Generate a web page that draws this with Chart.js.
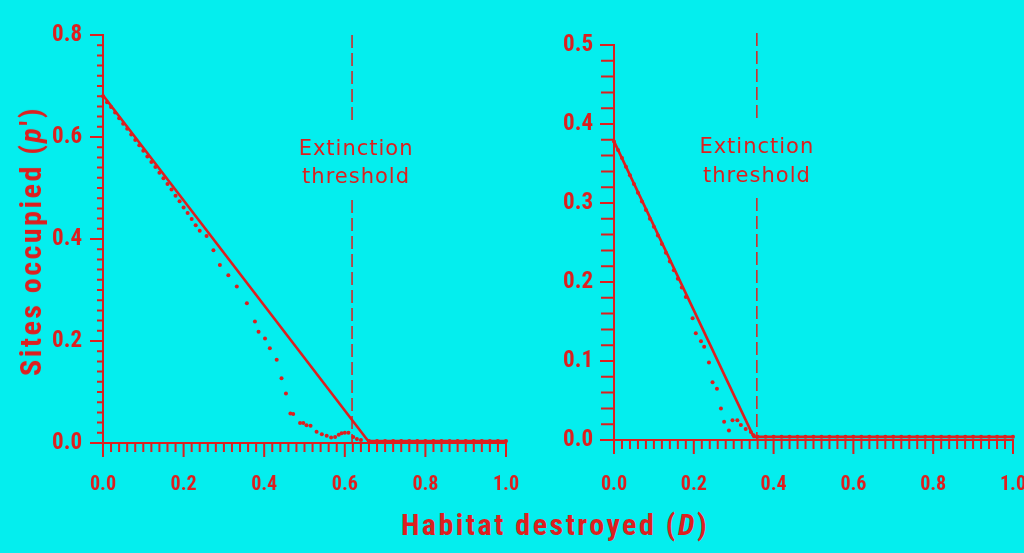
<!DOCTYPE html>
<html><head><meta charset="utf-8">
<script src="https://cdn.jsdelivr.net/npm/chart.js@4.4.0/dist/chart.umd.min.js"></script>
<style>
html,body{margin:0;padding:0;background:#04eeee;width:1024px;height:553px;overflow:hidden;position:relative}
canvas{position:absolute;top:0}
#c1{left:0;width:530px;height:500px}
#c2{left:520px;width:540px;height:500px}
.t{position:absolute;color:#dd1f1f;font-family:'Roboto Condensed','Liberation Sans Narrow',sans-serif;font-weight:bold;font-size:30px;letter-spacing:2.5px;white-space:nowrap;line-height:1}
#xt{left:555px;top:510px;transform:translateX(-50%)}
#yt{left:31px;top:241px;transform:translate(-50%,-50%) rotate(-90deg)}
</style></head><body>
<canvas id="c1" width="530" height="500"></canvas>
<canvas id="c2" width="540" height="500"></canvas>
<div class="t" id="xt">Habitat destroyed (<i>D</i>)</div>
<div class="t" id="yt">Sites occupied (<i>p</i>')</div>
<script>
const RED = '#dd1f1f';
const FONT = "'Roboto Condensed','Liberation Sans Narrow',sans-serif";

const xTickLabels = ['0.0','0.2','0.4','0.6','0.8','1.0'];
const leftYTickLabels = ['0.0','0.2','0.4','0.6','0.8'];
const rightYTickLabels = ['0.0','0.1','0.2','0.3','0.4','0.5'];
const thresholdText = ['Extinction','threshold'];

// Left panel: analytical line and simulation points
const leftLineD = [0, 0.658, 1.0];
const leftLineP = [0.682, 0.004, 0.004];
const leftSimD = [0.00,0.01,0.02,0.03,0.04,0.05,0.06,0.07,0.08,0.09,0.10,0.11,0.12,0.13,0.14,0.15,0.16,0.17,0.18,0.19,0.20,0.21,0.22,0.23,0.24,
  0.257,0.274,0.290,0.311,0.332,0.357,0.377,0.386,0.402,0.414,0.431,0.443,0.454,0.465,0.472,0.489,0.497,0.505,0.515,0.530,0.543,0.555,0.566,0.576,0.585,0.592,0.600,0.609,0.621,0.630,0.640,
  0.66,0.68,0.70,0.72,0.74,0.76,0.78,0.80,0.82,0.84,0.86,0.88,0.90,0.92,0.94,0.96,0.98,1.00];
const leftSimP = [0.680,0.668,0.659,0.648,0.637,0.626,0.616,0.605,0.594,0.584,0.573,0.562,0.551,0.541,0.530,0.519,0.508,0.497,0.485,0.474,0.462,0.451,0.439,0.427,0.416,
  0.406,0.378,0.349,0.329,0.307,0.274,0.238,0.218,0.205,0.186,0.163,0.127,0.097,0.058,0.057,0.039,0.039,0.035,0.034,0.022,0.017,0.014,0.011,0.012,0.016,0.019,0.020,0.020,0.012,0.008,0.006,
  0.004,0.004,0.004,0.004,0.004,0.004,0.004,0.004,0.004,0.004,0.004,0.004,0.004,0.004,0.004,0.004,0.004,0.004];
const leftThreshold = 0.618;

// Right panel
const rightLineD = [0, 0.35, 1.0];
const rightLineP = [0.378, 0.004, 0.004];
const rightSimD = [0.00,0.01,0.02,0.03,0.04,0.05,0.06,0.07,0.08,0.09,0.10,0.11,0.12,0.13,0.14,0.15,0.16,0.17,0.18,
  0.197,0.205,0.218,0.226,0.238,0.247,0.258,0.268,0.276,0.288,0.297,0.309,0.318,0.330,0.343,0.350,
  0.36,0.38,0.40,0.42,0.44,0.46,0.48,0.50,0.52,0.54,0.56,0.58,0.60,0.62,0.64,0.66,0.68,0.70,0.72,0.74,0.76,0.78,0.80,0.82,0.84,0.86,0.88,0.90,0.92,0.94,0.96,0.98,1.00];
const rightSimP = [0.378,0.367,0.357,0.346,0.335,0.324,0.313,0.302,0.291,0.280,0.270,0.259,0.248,0.237,0.226,0.215,0.204,0.193,0.181,
  0.154,0.135,0.125,0.118,0.098,0.073,0.065,0.040,0.023,0.012,0.025,0.025,0.019,0.014,0.010,0.006,
  0.004,0.004,0.004,0.004,0.004,0.004,0.004,0.004,0.004,0.004,0.004,0.004,0.004,0.004,0.004,0.004,0.004,0.004,0.004,0.004,0.004,0.004,0.004,0.004,0.004,0.004,0.004,0.004,0.004,0.004,0.004,0.004,0.004];
const rightThreshold = 0.358;

const decor = {
  id: 'decor',
  afterDraw(chart, args, o) {
    const {ctx, scales: {x, y}} = chart;
    ctx.save();
    ctx.strokeStyle = RED; ctx.fillStyle = RED;
    const x0 = x.getPixelForValue(0), x1 = x.getPixelForValue(1);
    const y0 = y.getPixelForValue(0), yT = y.getPixelForValue(o.ymax);
    ctx.lineWidth = 2;
    ctx.beginPath();
    ctx.moveTo(x0, yT); ctx.lineTo(x0, y0 + o.xMajorLen);
    ctx.moveTo(x0 - o.yMajorLen, y0); ctx.lineTo(x1, y0);
    const nY = Math.round(o.ymax / 0.02);
    for (let i = 0; i <= nY; i++) {
      const py = y.getPixelForValue(i * 0.02);
      const len = (i % o.yMajorEvery === 0) ? o.yMajorLen : o.yMinorLen;
      ctx.moveTo(x0 - len, py); ctx.lineTo(x0 + 1, py);
    }
    for (let i = 0; i <= 50; i++) {
      const px = x.getPixelForValue(i * 0.02);
      const len = (i % 10 === 0) ? o.xMajorLen : o.xMinorLen;
      ctx.moveTo(px, y0 - 1); ctx.lineTo(px, y0 + len);
    }
    ctx.stroke();
    // extinction threshold: dashed vertical line with a gap for its label
    const tx = x.getPixelForValue(o.threshold);
    ctx.lineWidth = 1.5;
    ctx.setLineDash([13, 5]);
    ctx.beginPath();
    ctx.moveTo(tx, o.dashTop); ctx.lineTo(tx, o.gapTop);
    ctx.moveTo(tx, o.gapBottom); ctx.lineTo(tx, y0);
    ctx.stroke();
    ctx.setLineDash([]);
    ctx.font = "21px 'DejaVu Sans', sans-serif";
    if ('letterSpacing' in ctx) ctx.letterSpacing = '1px';
    ctx.textAlign = 'center'; ctx.textBaseline = 'alphabetic';
    ctx.fillText(thresholdText[0], tx + o.textDx, o.text1Y);
    ctx.fillText(thresholdText[1], tx + o.textDx, o.text2Y);
    ctx.restore();
  }
};

function makeChart(id, c) {
  return new Chart(document.getElementById(id), {
    type: 'scatter',
    data: { datasets: [
      { data: c.lineD.map((d, i) => ({x: d, y: c.lineP[i]})), showLine: true, borderColor: RED, borderWidth: 2.6, pointRadius: 0, clip: false },
      { data: c.simD.map((d, i) => ({x: d, y: c.simP[i]})), showLine: false, pointRadius: 2, backgroundColor: RED, borderWidth: 0, clip: false }
    ]},
    options: {
      responsive: false, animation: false, events: [],
      layout: { padding: { top: c.top, right: c.right, left: 0, bottom: 0 } },
      plugins: { legend: { display: false }, tooltip: { enabled: false }, decor: c.decor },
      scales: {
        x: { type: 'linear', min: 0, max: 1,
             grid: { display: false, drawTicks: false }, border: { display: false },
             ticks: { stepSize: 0.2, padding: c.xPad, color: RED, maxRotation: 0, autoSkip: false,
                      font: { family: FONT, weight: 'bold', size: 20 }, callback: (v, i) => xTickLabels[i] },
             afterFit: s => { s.height = c.xh; s.paddingLeft = 0; s.paddingRight = 0; } },
        y: { type: 'linear', min: 0, max: c.ymax,
             grid: { display: false, drawTicks: false }, border: { display: false },
             ticks: { stepSize: c.ystep, padding: 21, color: RED, autoSkip: false,
                      font: { family: FONT, weight: 'bold', size: 23 }, callback: (v, i) => c.yLabels[i] },
             afterFit: s => { s.width = c.yw; s.paddingTop = 0; s.paddingBottom = 0; } }
      }
    },
    plugins: [decor]
  });
}

makeChart('c1', {
  lineD: leftLineD, lineP: leftLineP, simD: leftSimD, simP: leftSimP,
  top: 35, right: 24, xh: 57, yw: 103, ymax: 0.8, ystep: 0.2, yLabels: leftYTickLabels, xPad: 30,
  decor: { ymax: 0.8, yMajorEvery: 10, yMajorLen: 13, yMinorLen: 6, xMajorLen: 14, xMinorLen: 9,
           threshold: leftThreshold, dashTop: 35, gapTop: 122, gapBottom: 200, textDx: 4, text1Y: 155, text2Y: 183 }
});
makeChart('c2', {
  lineD: rightLineD, lineP: rightLineP, simD: rightSimD, simP: rightSimP,
  top: 45, right: 47, xh: 60, yw: 94, ymax: 0.5, ystep: 0.1, yLabels: rightYTickLabels, xPad: 33,
  decor: { ymax: 0.5, yMajorEvery: 5, yMajorLen: 14, yMinorLen: 13, xMajorLen: 14, xMinorLen: 9,
           threshold: rightThreshold, dashTop: 33, gapTop: 122, gapBottom: 198, textDx: 0, text1Y: 153, text2Y: 182 }
});
</script>
</body></html>
